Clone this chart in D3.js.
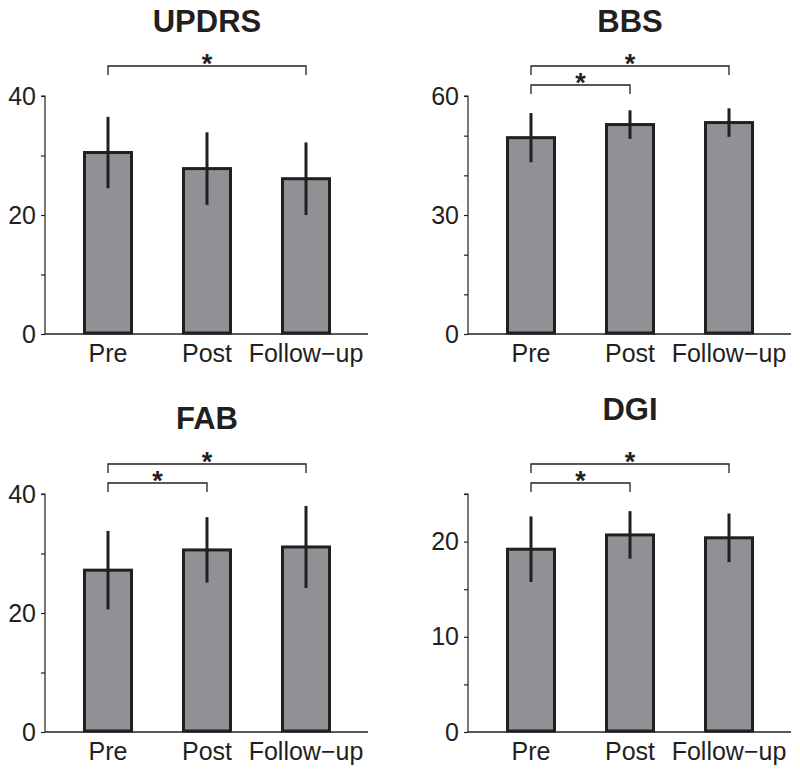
<!DOCTYPE html>
<html>
<head>
<meta charset="utf-8">
<script src="https://cdn.jsdelivr.net/npm/d3@7"></script>
<style>
  body { margin: 0; background: #fff; }
  svg { display: block; font-family: "Liberation Sans", Arial, sans-serif; }
</style>
</head>
<body>
<div id="chart"></div>
<script>
// data
const categories = ["Pre", "Post", "Follow\u2212up"]

const updrsMean = [30.5, 27.8, 26.1]
const updrsSd = [6.0, 6.1, 6.1]
const bbsMean = [49.5, 52.8, 53.3]
const bbsSd = [6.2, 3.6, 3.6]
const fabMean = [27.2, 30.6, 31.1]
const fabSd = [6.6, 5.5, 6.9]
const dgiMean = [19.2, 20.7, 20.4]
const dgiSd = [3.45, 2.5, 2.55]

const updrsTicks = [0, 20, 40]
const bbsTicks = [0, 30, 60]
const fabTicks = [0, 20, 40]
const dgiTicks = [0, 10, 20]

// significance brackets: [from, to]
const updrsSig = [[0, 2]]
const bbsSig = [[0, 2], [0, 1]]
const fabSig = [[0, 2], [0, 1]]
const dgiSig = [[0, 2], [0, 1]]

const panels = [
  {title: "UPDRS", mean: updrsMean, sd: updrsSd, ticks: updrsTicks, max: 40, minor: 10, sig: updrsSig,
   x: 45, top: 96, bottom: 334, titleY: 32},
  {title: "BBS", mean: bbsMean, sd: bbsSd, ticks: bbsTicks, max: 60, minor: 10, sig: bbsSig,
   x: 468, top: 96, bottom: 334, titleY: 32},
  {title: "FAB", mean: fabMean, sd: fabSd, ticks: fabTicks, max: 40, minor: 10, sig: fabSig,
   x: 45, top: 494, bottom: 732, titleY: 429},
  {title: "DGI", mean: dgiMean, sd: dgiSd, ticks: dgiTicks, max: 25, minor: 5, sig: dgiSig,
   x: 468, top: 494, bottom: 732, titleY: 420}
]

const ink = "#231f20"
const fill = "#8f9194"

const svg = d3.select("#chart").append("svg")
  .attr("width", 800).attr("height", 773)

panels.forEach(p => {
  const g = svg.append("g")

  const x = d3.scaleBand()
    .domain(categories)
    .range([p.x + 13.5, p.x + 310.5])
    .paddingInner(0.495)
    .paddingOuter(0.2475)
  const y = d3.scaleLinear().domain([0, p.max]).range([p.bottom, p.top])

  // y axis: long ticks with labels, short minor ticks
  const minorVals = d3.range(0, p.max + 0.001, p.minor)
  const yAxis = g.append("g")
    .attr("transform", "translate(" + p.x + ",0)")
    .call(d3.axisLeft(y).tickValues(minorVals).tickSize(4).tickPadding(5)
      .tickFormat(d => p.ticks.includes(d) ? d : ""))
  yAxis.select(".domain").attr("stroke", ink).attr("stroke-width", 1.2)
    .attr("d", "M-4," + y(p.max) + "H0V" + y(0))
  yAxis.selectAll(".tick line").attr("stroke", ink).attr("stroke-width", 1.2)
  yAxis.selectAll(".tick text").attr("fill", ink).style("font-size", "25px")

  // x baseline
  g.append("line")
    .attr("x1", p.x).attr("x2", p.x + 323)
    .attr("y1", y(0)).attr("y2", y(0))
    .attr("stroke", ink).attr("stroke-width", 1.5)

  // bars
  g.selectAll("rect.bar").data(p.mean).enter()
    .append("rect")
      .attr("class", "bar")
      .attr("x", (d, i) => x(categories[i]) + 1.5)
      .attr("width", x.bandwidth() - 3)
      .attr("y", d => y(d))
      .attr("height", d => y(0) - y(d) - 1)
      .attr("fill", fill)
      .attr("stroke", ink)
      .attr("stroke-width", 3)

  // error bars
  g.selectAll("line.err").data(p.mean).enter()
    .append("line")
      .attr("class", "err")
      .attr("x1", (d, i) => x(categories[i]) + x.bandwidth() / 2)
      .attr("x2", (d, i) => x(categories[i]) + x.bandwidth() / 2)
      .attr("y1", (d, i) => y(d + p.sd[i]))
      .attr("y2", (d, i) => y(d - p.sd[i]))
      .attr("stroke", ink)
      .attr("stroke-width", 3)

  // x labels
  g.selectAll("text.cat").data(categories).enter()
    .append("text")
      .attr("class", "cat")
      .attr("x", d => x(d) + x.bandwidth() / 2)
      .attr("y", y(0) + 28)
      .attr("text-anchor", "middle")
      .attr("fill", ink)
      .style("font-size", "25px")
      .text(d => d)

  // title
  g.append("text")
    .attr("x", x(categories[1]) + x.bandwidth() / 2)
    .attr("y", p.titleY)
    .attr("text-anchor", "middle")
    .attr("fill", ink)
    .style("font-size", "31px")
    .style("font-weight", "bold")
    .text(p.title)

  // significance brackets, outer one on top
  p.sig.forEach((s, k) => {
    const cx = i => x(categories[i]) + x.bandwidth() / 2
    const by = p.top - 30 + k * 19
    g.append("path")
      .attr("d", "M" + cx(s[0]) + "," + (by + 9) + "V" + by + "H" + cx(s[1]) + "V" + (by + 9))
      .attr("fill", "none")
      .attr("stroke", ink)
      .attr("stroke-width", 1.3)
    g.append("text")
      .attr("x", (cx(s[0]) + cx(s[1])) / 2)
      .attr("y", by + 7)
      .attr("text-anchor", "middle")
      .attr("fill", ink)
      .style("font-size", "27px")
      .style("font-weight", "bold")
      .text("*")
  })
})
</script>
</body>
</html>
